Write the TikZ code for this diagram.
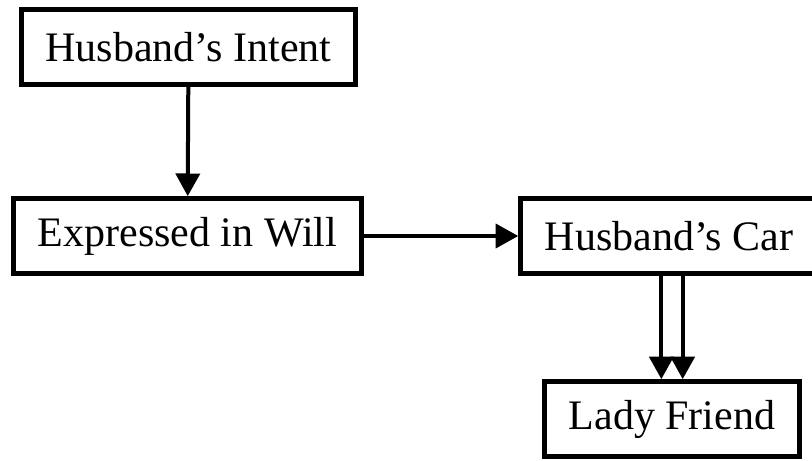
\documentclass[tikz,border=0pt]{standalone}
\usepackage{fontspec}
\setmainfont{Liberation Serif}
\usetikzlibrary{arrows.meta}

\begin{document}
\begin{tikzpicture}[x=0.75pt,y=-0.75pt,
    box/.style={draw,line width=3.75pt,inner xsep=18pt,minimum height=56pt,
      font=\fontsize{31.5}{36}\selectfont},
    link/.style={line width=3pt,-{Triangle[length=17pt,width=18pt]}}]
  \clip (0,0) rectangle (812,460);
  \node[box] (intent) at (188.5,47) {Husband’s Intent};
  \node[box] (will) at (187.5,236) {Expressed in Will};
  \node[box] (car) at (669,236) {Husband’s Car};
  \node[box] (lady) at (672,419) {Lady Friend};
  \draw[link] (intent) -- (will);
  \draw[link] (will) -- (car);
  \draw[link] ([xshift=-8pt]lady.north |- car.south) -- ([xshift=-8pt]lady.north);
  \draw[link] ([xshift=8pt]lady.north |- car.south) -- ([xshift=8pt]lady.north);
\end{tikzpicture}
\end{document}
